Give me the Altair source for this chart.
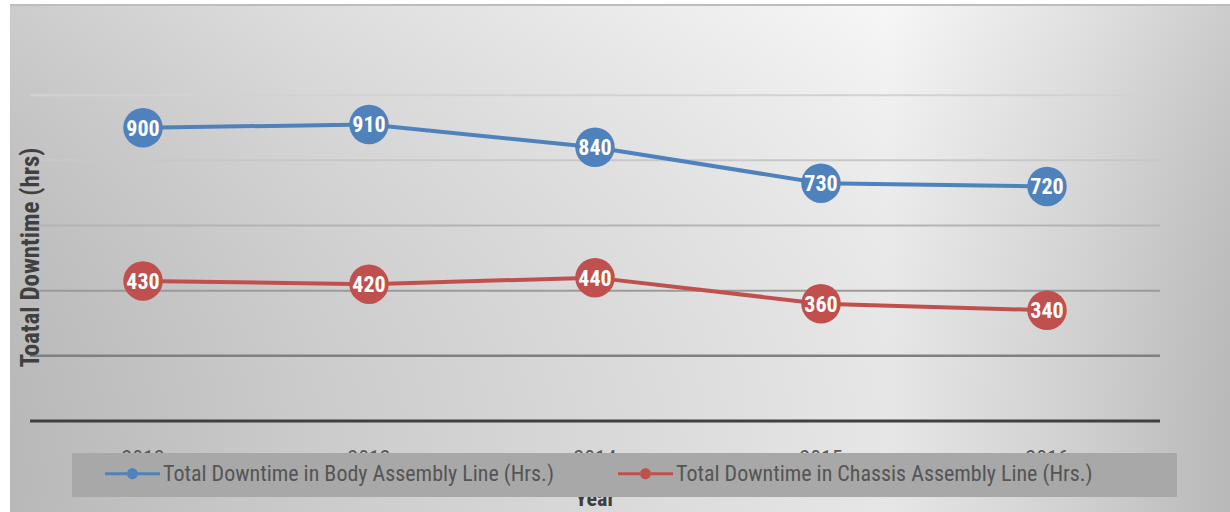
import altair as alt
import pandas as pd

# Downtime per year for the two assembly lines
years = ["2012", "2013", "2014", "2015", "2016"]
body_hours = [900, 910, 840, 730, 720]
chassis_hours = [430, 420, 440, 360, 340]
series_names = [
    "Total Downtime in Body Assembly Line (Hrs.)",
    "Total Downtime in Chassis Assembly Line (Hrs.)",
]
series_colors = ["#4f81bd", "#c0504d"]

# Horizontal reference lines, darker towards the baseline
grid_values = [0, 200, 400, 600, 800, 1000]
grid_colors = ["#404040", "#808080", "#9a9a9a", "#b4b4b4", "#c8c8c8", "#d2d2d2"]
grid_widths = [3, 2.5, 2, 2, 2, 2]

rows = []
for name, vals in zip(series_names, [body_hours, chassis_hours]):
    for yr, v in zip(years, vals):
        rows.append({"Year": yr, "Series": name, "Hours": v})
df = pd.DataFrame(rows)
grid_df = pd.DataFrame({"v": grid_values, "c": grid_colors, "w": grid_widths})
years_df = pd.DataFrame({"Year": years})
one = pd.DataFrame({"a": [0]})

W, H = 1130, 391
NARROW = "Liberation Sans Narrow, Roboto Condensed, Arial Narrow, sans-serif"

x_scale = alt.Scale(type="point", padding=0.5, domain=years)
y_scale = alt.Scale(domain=[0, 1200], nice=False)
col_scale = alt.Scale(domain=series_names, range=series_colors)

# Legend symbol: a short line with a dot in the middle
legend_symbol = (
    "M-1,-0.055H-0.19V0.055H-1Z "
    "M0.19,-0.055H1V0.055H0.19Z "
    "M-0.2,0A0.2,0.2 0 1,0 0.2,0A0.2,0.2 0 1,0 -0.2,0Z"
)

background = alt.Chart(one).mark_rect(
    fill={
        "gradient": "linear",
        "x1": 0, "y1": 0, "x2": 1, "y2": 0,
        "stops": [
            {"offset": 0.0, "color": "#c4c4c4"},
            {"offset": 0.25, "color": "#d8d8d8"},
            {"offset": 0.72, "color": "#f5f5f5"},
            {"offset": 0.88, "color": "#dcdcdc"},
            {"offset": 1.0, "color": "#c4c4c4"},
        ],
    }
).encode(x=alt.value(-20), x2=alt.value(1200), y=alt.value(-26), y2=alt.value(482))

shade = alt.Chart(one).mark_rect(
    fill={
        "gradient": "linear",
        "x1": 0, "y1": 0, "x2": 0, "y2": 1,
        "stops": [
            {"offset": 0.0, "color": "rgba(255,255,255,0.15)"},
            {"offset": 1.0, "color": "rgba(0,0,0,0.06)"},
        ],
    }
).encode(x=alt.value(-20), x2=alt.value(1200), y=alt.value(-26), y2=alt.value(482))

top_border = alt.Chart(one).mark_rule(color="#bdbdbd", strokeWidth=2).encode(
    x=alt.value(-20), x2=alt.value(1200), y=alt.value(-25)
)

grid = alt.Chart(grid_df).mark_rule().encode(
    y=alt.Y("v:Q", scale=y_scale),
    color=alt.Color("c:N", scale=None),
    strokeWidth=alt.StrokeWidth("w:Q", scale=None),
)

lines = alt.Chart(df).mark_line(strokeWidth=4).encode(
    x=alt.X("Year:N", scale=x_scale, axis=None),
    y=alt.Y(
        "Hours:Q",
        scale=y_scale,
        axis=alt.Axis(
            title="Toatal Downtime (hrs)",
            labels=False, ticks=False, domain=False, grid=False,
            zindex=1,
            titleFont=NARROW, titleFontSize=25, titleFontWeight="bold",
            titleColor="#404040", titleX=0, titleY=227,
            titleBaseline="middle", titleAngle=270,
        ),
    ),
    stroke=alt.Stroke("Series:N", scale=col_scale, legend=None),
)

dots = alt.Chart(df).mark_circle(size=1560, opacity=1).encode(
    x=alt.X("Year:N", scale=x_scale, axis=None),
    y=alt.Y("Hours:Q", scale=y_scale),
    color=alt.Color(
        "Series:N",
        scale=col_scale,
        legend=alt.Legend(
            title=None,
            orient="none",
            legendX=75,
            legendY=416,
            direction="horizontal",
            symbolType=legend_symbol,
            symbolSize=3025,
            symbolStrokeWidth=0,
            labelFont=NARROW,
            labelFontSize=22,
            labelColor="#555555",
            labelLimit=800,
            labelOffset=3,
            columnPadding=64,
            padding=0,
        ),
    ),
)

values = alt.Chart(df).mark_text(
    color="white", font=NARROW, fontSize=22, fontWeight="bold", baseline="middle", dy=1
).encode(
    x=alt.X("Year:N", scale=x_scale, axis=None),
    y=alt.Y("Hours:Q", scale=y_scale),
    text="Hours:Q",
)

# Category labels sit just under the baseline, mostly covered by the legend band
year_labels = alt.Chart(years_df).mark_text(
    baseline="top", font=NARROW, fontSize=22, color="#595959"
).encode(
    x=alt.X("Year:N", scale=x_scale, axis=None),
    y=alt.value(419),
    text="Year:N",
)

x_title = alt.Chart(one).mark_text(
    text="Year", font=NARROW, fontSize=22, fontWeight="bold", color="#404040",
    baseline="alphabetic",
).encode(x=alt.value(W / 2), y=alt.value(476))

legend_box = alt.Chart(one).mark_rect(fill="#a8a8a8").encode(
    x=alt.value(42), x2=alt.value(1147), y=alt.value(423), y2=alt.value(467)
)

chart = (
    alt.layer(
        background, shade, top_border, grid, lines, dots, values,
        year_labels, x_title, legend_box,
    )
    .properties(
        width=W,
        height=H,
        autosize=alt.AutoSizeParams(type="none"),
        padding={"left": 30, "top": 30, "right": 70, "bottom": 91},
        background="white",
    )
    .configure_view(stroke=None)
)

chart.save("out.html", embed_options={"renderer": "svg", "actions": False})
